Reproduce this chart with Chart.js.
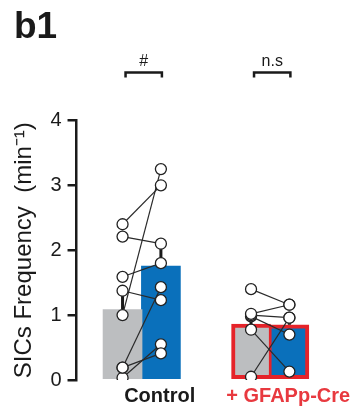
<!DOCTYPE html>
<html>
<head>
<meta charset="utf-8">
<script src="https://cdn.jsdelivr.net/npm/chart.js@4.4.1/dist/chart.umd.min.js"></script>
<style>
  html, body { margin: 0; padding: 0; background: #fff; }
  #wrap { width: 355px; height: 413px; }
</style>
</head>
<body>
<div id="wrap"><canvas id="chart"></canvas></div>
<script>
// groups and where their bars sit on the x scale
const groups = ["Control", "+ GFAPp-Cre"]
const grayX = [1, 4.35]
const blueX = [2, 5.35]
const sigLabels = ["#", "n.s"]

// bar heights (means) and SEM
const grayMeans = [1.085, 0.86]
const blueMeans = [1.757, 0.85]
const graySem = [0.28, 0.15]
const blueSem = [0.3, 0.13]

// paired cells, before (gray) and after (blue)
const controlGray = [2.40, 2.21, 1.59, 1.375, 1.0, 0.19, 0.19, 0.035]
const controlBlue = [3.0, 2.10, 1.80, 1.23, 3.25, 1.43, 0.41, 0.55]
const gfapGray = [1.40, 1.02, 1.0, 0.98, 0.775, 0.05]
const gfapBlue = [1.16, 1.16, 0.96, 0.70, 0.13, 0.96]

const yTicks = [0, 1, 2, 3, 4]

const gray = "#bcbec0"
const blue = "#0a70bb"
const red = "#e52329"
const ink = "#1a1a1a"

const datasets = []

// bars
datasets.push({
    type: "bar",
    data: grayX.map((x, i) => ({ x: x, y: grayMeans[i] })),
    backgroundColor: gray,
    borderColor: ["rgba(0,0,0,0)", red],
    borderWidth: [0, { top: 4, left: 4, bottom: 4, right: 2 }],
    borderSkipped: false,
    barThickness: 39,
    grouped: false,
    order: 3,
})
datasets.push({
    type: "bar",
    data: blueX.map((x, i) => ({ x: x, y: blueMeans[i] })),
    backgroundColor: blue,
    borderColor: ["rgba(0,0,0,0)", red],
    borderWidth: [0, { top: 4, left: 2, bottom: 4, right: 4 }],
    borderSkipped: false,
    barThickness: 39,
    grouped: false,
    order: 3,
})

// error bars (upward only)
const errLine = (x, m, s) => ({
    type: "line",
    data: [{ x: x, y: m }, { x: x, y: m + s }],
    borderColor: ink,
    borderWidth: 3,
    pointRadius: 0,
    order: 2,
})
groups.forEach((g, i) => {
    datasets.push(errLine(grayX[i], grayMeans[i], graySem[i]))
    datasets.push(errLine(blueX[i], blueMeans[i], blueSem[i]))
})

// paired lines
const pairLine = (x1, y1, x2, y2) => ({
    type: "line",
    data: [{ x: x1, y: y1 }, { x: x2, y: y2 }],
    borderColor: "#2a2a2a",
    borderWidth: 1.2,
    pointRadius: 5.5,
    pointBackgroundColor: "#fff",
    pointBorderColor: "#222",
    pointBorderWidth: 1.3,
    order: 1,
})
controlGray.forEach((v, k) => datasets.push(pairLine(grayX[0], v, blueX[0], controlBlue[k])))
gfapGray.forEach((v, k) => datasets.push(pairLine(grayX[1], v, blueX[1], gfapBlue[k])))

// significance brackets above each group
const brackets = {
    id: "brackets",
    afterDraw(chart) {
        const ctx = chart.ctx
        const xs = chart.scales.x
        const y = chart.chartArea.top - 48
        ctx.save()
        ctx.strokeStyle = ink
        ctx.lineWidth = 2.5
        ctx.fillStyle = ink
        ctx.font = "16px 'Liberation Sans', Arial, sans-serif"
        ctx.textAlign = "center"
        ctx.textBaseline = "alphabetic"
        groups.forEach((g, i) => {
            const a = xs.getPixelForValue(grayX[i]) + 3
            const b = xs.getPixelForValue(blueX[i]) + 1
            ctx.beginPath()
            ctx.moveTo(a, y + 5)
            ctx.lineTo(a, y)
            ctx.lineTo(b, y)
            ctx.lineTo(b, y + 5)
            ctx.stroke()
            ctx.fillText(sigLabels[i], (a + b) / 2, y - 6)
        })
        ctx.restore()
    },
}

new Chart(document.getElementById("chart"), {
    data: { datasets: datasets },
    options: {
        responsive: true,
        maintainAspectRatio: false,
        animation: false,
        layout: { padding: { left: 14, right: 10, top: 0, bottom: 1 } },
        plugins: {
            legend: { display: false },
            tooltip: { enabled: false },
            title: {
                display: true,
                text: "b1",
                align: "start",
                color: ink,
                font: { family: "'Liberation Sans', Arial, sans-serif", size: 37, weight: "bold", lineHeight: 1.2 },
                padding: { top: 6, bottom: 70 },
            },
        },
        scales: {
            x: {
                type: "linear",
                min: -0.2,
                max: 6.8,
                offset: false,
                grid: { display: false, drawTicks: false },
                border: { display: false },
                afterBuildTicks: scale => {
                    scale.ticks = groups.map((g, i) => ({ value: (grayX[i] + blueX[i]) / 2 }))
                },
                ticks: {
                    autoSkip: false,
                    maxRotation: 0,
                    labelOffset: 18,
                    padding: 4,
                    color: ctx => (ctx.index === 0 ? ink : "#e8393f"),
                    font: { family: "'Liberation Sans', Arial, sans-serif", size: 20, weight: "bold" },
                    callback: (v, i) => groups[i],
                },
            },
            y: {
                min: 0,
                max: 4,
                afterBuildTicks: scale => {
                    scale.ticks = yTicks.map(v => ({ value: v }))
                },
                grid: {
                    display: true,
                    drawOnChartArea: false,
                    drawTicks: true,
                    tickLength: 9,
                    lineWidth: 2.5,
                    color: ink,
                },
                border: { display: true, color: ink, width: 2.5 },
                ticks: {
                    padding: 6,
                    color: ink,
                    font: { family: "'Liberation Sans', Arial, sans-serif", size: 20 },
                },
                title: {
                    display: true,
                    text: "SICs Frequency  (min\u207B\u00B9)",
                    color: ink,
                    font: { family: "'Liberation Sans', Arial, sans-serif", size: 24, lineHeight: 0.85 },
                    padding: { top: 0, bottom: 10 },
                },
            },
        },
    },
    plugins: [brackets],
})
</script>
</body>
</html>
